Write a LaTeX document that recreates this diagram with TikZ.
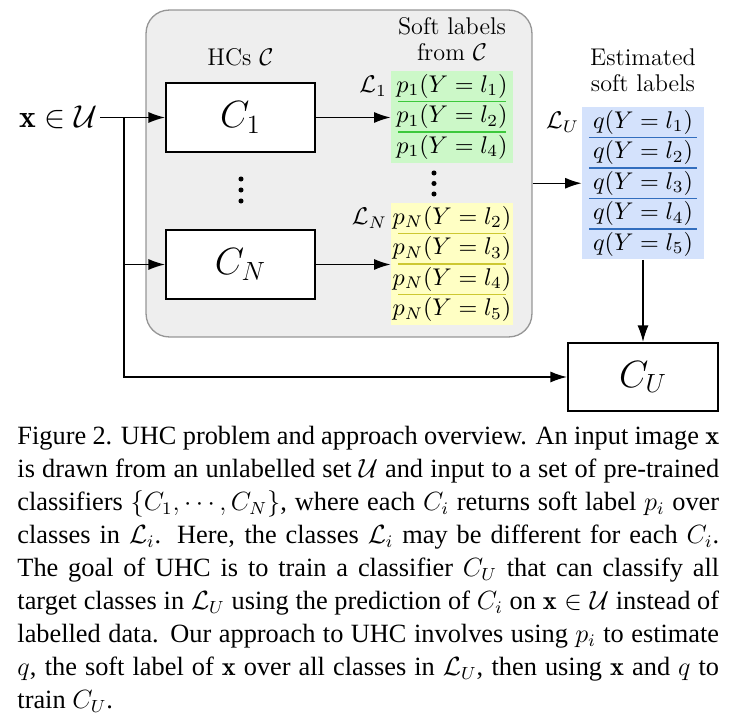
\RequirePackage{fix-cm}
\documentclass[tikz,border=0pt]{standalone}
\usepackage{fontspec}
\newfontfamily\capfont{Liberation Serif}
\usepackage{tikz}
\usetikzlibrary{arrows.meta, positioning}
\definecolor{hcfill}{RGB}{238,238,238}
\definecolor{hcline}{RGB}{150,150,150}
\definecolor{pgreen}{RGB}{204,248,200}
\definecolor{pgreenrule}{RGB}{60,200,60}
\definecolor{pyellow}{RGB}{255,255,196}
\definecolor{pyellowrule}{RGB}{205,200,50}
\definecolor{qblue}{RGB}{212,226,252}
\definecolor{qbluerule}{RGB}{50,110,190}

\begin{document}
\begin{tikzpicture}[x=0.016cm, y=-0.016cm, font=\fontsize{11}{12}\selectfont,
    arr/.style={-{Latex[length=7.5pt,width=5pt]}, line width=0.6pt},
    hcbox/.style={draw=hcline, fill=hcfill, line width=0.6pt, rounded corners=10.5pt, minimum width=6.176cm, minimum height=5.232cm},
    clsbox/.style={draw, line width=1pt, fill=white, minimum width=2.384cm, minimum height=1.104cm, font=\LARGE},
    labbox/.style={minimum width=1.952cm, inner sep=0pt},
    greenrule/.style={pgreenrule, line width=0.5pt},
    yellowrule/.style={pyellowrule, line width=0.5pt},
    bluerule/.style={qbluerule, line width=0.5pt}]
    \useasboundingbox (0,0) rectangle (729,723);

    % Heterogeneous classifiers
    \node[hcbox] (hcs) at (339,173.5) {};
    \node[clsbox] (c1) at (240.5,117.5) {$C_1$};
    \node[clsbox] (cn) at (240.5,264.5) {$C_N$};
    \node[above=3.5pt of c1] (hcslabel) {HCs $\mathcal{C}$};
    \fill (241,179) circle (1.15pt) (241,190) circle (1.15pt) (241,201) circle (1.15pt);

    % Input
    \node[anchor=east, inner sep=1pt, font=\Large] (x) at (100,117.5) {$\mathbf{x}\in\mathcal{U}$};
    \coordinate (br) at (124,117.5);
    \draw[arr] (x) -- (c1);
    \draw[arr] (br) |- (cn);

    % Soft labels from C
    \node[labbox, fill=pgreen, minimum height=1.472cm] (soft1) at (452,117) {};
    \node[labbox, fill=pyellow, minimum height=1.96cm] (softn) at (452,264.25) {};
    \node[above=1pt of soft1, align=center] (softtitle) {Soft labels\\from $\mathcal{C}$};
    \foreach \lab [count=\i] in {1,2,4}
        \node (g\i) at (452,{71+30.5*\i-15.25}) {$p_1(Y=l_{\lab})$};
    \foreach \i in {1,2}
        \draw[greenrule] (398,{71+30.5*\i}) -- (506,{71+30.5*\i});
    \foreach \lab [count=\i] in {2,3,4,5}
        \node (y\i) at (452,{203+30.5*\i-15.25}) {$p_N(Y=l_{\lab})$};
    \foreach \i in {1,2,3}
        \draw[yellowrule] (398,{203+30.5*\i}) -- (506,{203+30.5*\i});
    \node[anchor=east, inner sep=1.5pt] (l1) at (soft1.west |- g1) {$\mathcal{L}_1$};
    \node[anchor=east, inner sep=1.5pt] (ln) at (softn.west |- y1) {$\mathcal{L}_N$};
    \fill (434,173) circle (1.15pt) (434,183.5) circle (1.15pt) (434,194) circle (1.15pt);
    \draw[arr] (c1) -- (c1 -| soft1.west);
    \draw[arr] (cn) -- (cn -| softn.west);

    % Estimated soft labels
    \node[labbox, fill=qblue, minimum height=2.44cm] (est) at (643,183.25) {};
    \node[above=3pt of est, align=center] (esttitle) {Estimated\\soft labels};
    \foreach \lab in {1,...,5}
        \node (q\lab) at (643,{107+30.5*\lab-15.25}) {$q(Y=l_{\lab})$};
    \foreach \i in {1,...,4}
        \draw[bluerule] (589,{107+30.5*\i}) -- (697,{107+30.5*\i});
    \node[anchor=east, inner sep=1pt] (lu) at (est.west |- q1) {$\mathcal{L}_U$};
    \draw[arr] (hcs.east |- est) -- (est);

    % Target classifier
    \node[clsbox, minimum width=2.4cm, minimum height=1.088cm] (cu) at (643,377) {$C_U$};
    \draw[arr] (est) -- (cu);
    \draw[arr] (br) |- (cu);

    % Caption
    \node[anchor=north west, inner sep=0pt, text width=11.232cm, align=justify,
        font=\capfont\fontsize{12}{15}\selectfont] (caption) at (17,426) {%
    Figure 2. UHC problem and approach overview. An input image $\mathbf{x}$\linebreak
    is drawn from an unlabelled set $\mathcal{U}$ and input to a set of pre-trained\linebreak
    classifiers $\{C_1,\cdots,C_N\}$, where each $C_i$ returns soft label $p_i$ over\linebreak
    classes in $\mathcal{L}_i$. Here, the classes $\mathcal{L}_i$ may be different for each $C_i$.\linebreak
    The goal of UHC is to train a classifier $C_U$ that can classify all\linebreak
    target classes in $\mathcal{L}_U$ using the prediction of $C_i$ on $\mathbf{x}\in\mathcal{U}$ instead of\linebreak
    labelled data. Our approach to UHC involves using $p_i$ to estimate\linebreak
    $q$, the soft label of $\mathbf{x}$ over all classes in $\mathcal{L}_U$, then using $\mathbf{x}$ and $q$ to\linebreak
    train $C_U$.};
\end{tikzpicture}
\end{document}
